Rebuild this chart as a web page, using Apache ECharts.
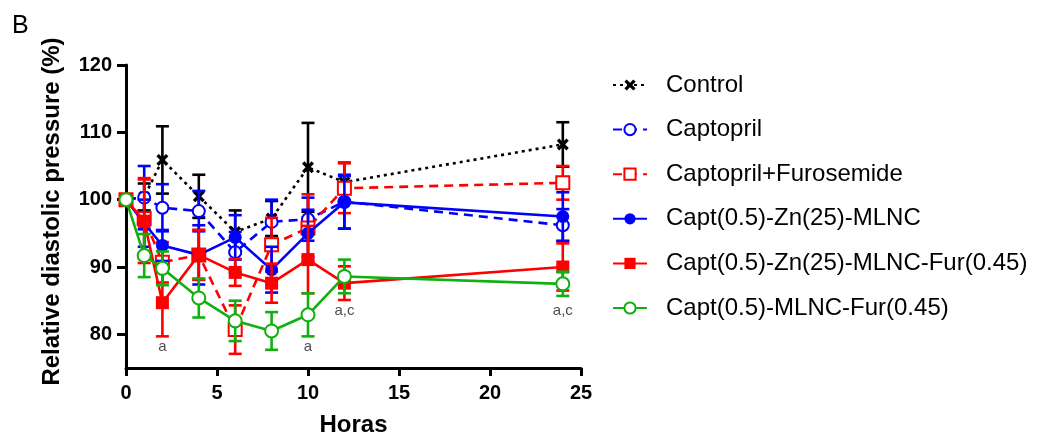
<!DOCTYPE html>
<html>
<head>
<meta charset="utf-8">
<script src="https://cdn.jsdelivr.net/npm/echarts@6/dist/echarts.min.js"></script>
<style>html,body{margin:0;padding:0;background:#fff;}#c{width:1042px;height:436px;}</style>
</head>
<body>
<div id="c"></div>
<script>
const times = [0, 1, 2, 4, 6, 8, 10, 12, 24];
const seriesNames = ['Control', 'Captopril', 'Captopril+Furosemide', 'Capt(0.5)-Zn(25)-MLNC', 'Capt(0.5)-Zn(25)-MLNC-Fur(0.45)', 'Capt(0.5)-MLNC-Fur(0.45)'];
const control     = [100, 100.4, 105.9, 100.5, 95.2, 97.2, 104.8, 102.6, 108.2];
const controlSD   = [0, 2.0, 5.0, 3.2, 3.2, 2.6, 6.6, 2.9, 3.3];
const captopril   = [100, 100.3, 98.8, 98.3, 92.2, 96.7, 97.1, 99.7, 96.2];
const captoprilSD = [0, 4.7, 3.5, 3.0, 3.0, 3.3, 3.2, 4.0, 2.4];
const captFur     = [100, 97.2, 90.7, 91.8, 80.7, 93.3, 95.8, 101.7, 102.5];
const captFurSD   = [0, 6.0, 3.0, 3.7, 3.6, 4.0, 5.0, 3.7, 2.5];
const zn          = [100, 96.5, 93.2, 91.8, 94.4, 89.6, 95.0, 99.6, 97.5];
const znSD        = [0, 3.5, 2.3, 4.4, 3.3, 3.4, 3.5, 3.9, 3.6];
const znFur       = [100, 96.8, 84.7, 91.8, 89.2, 87.6, 91.1, 87.6, 90.0];
const znFurSD     = [0, 6.2, 5.0, 3.7, 2.0, 2.9, 5.0, 2.5, 3.5];
const mlncFur     = [100, 91.7, 89.8, 85.4, 82.0, 80.5, 82.9, 88.6, 87.5];
const mlncFurSD   = [0, 3.2, 2.5, 2.9, 3.0, 2.8, 3.2, 2.5, 1.8];
const yTicks = [80, 90, 100, 110, 120];
const annX = [2, 10, 12, 24];
const annY = [78.2, 78.2, 83.5, 83.5];
const annText = ['a', 'a', 'a,c', 'a,c'];

const FONT = 'Arial, "Liberation Sans", sans-serif';
const xMarker = 'path://M0,2 L2,0 L5,3 L8,0 L10,2 L7,5 L10,8 L8,10 L5,7 L2,10 L0,8 L3,5 Z';

const defs = [
  {name: seriesNames[0], mean: control,   sd: controlSD,   color: '#000000', symbol: xMarker,       size: 12, dash: [3, 4]},
  {name: seriesNames[1], mean: captopril, sd: captoprilSD, color: '#0000ff', symbol: 'emptyCircle', size: 12, dash: [9, 6]},
  {name: seriesNames[2], mean: captFur,   sd: captFurSD,   color: '#ff0000', symbol: 'emptyRect',   size: 13, dash: [9, 6]},
  {name: seriesNames[3], mean: zn,        sd: znSD,        color: '#0000ff', symbol: 'circle',      size: 13, dash: 'solid'},
  {name: seriesNames[4], mean: znFur,     sd: znFurSD,     color: '#ff0000', symbol: 'rect',        size: 13, dash: 'solid'},
  {name: seriesNames[5], mean: mlncFur,   sd: mlncFurSD,   color: '#10b010', symbol: 'emptyCircle', size: 13, dash: 'solid'}
];

const series = [];
defs.forEach(function (d, i) {
  series.push({
    type: 'custom',
    name: d.name + ' SD',
    z: 2 + i * 2,
    silent: true,
    data: times.map(function (t, k) { return [t, d.mean[k], d.sd[k]]; }),
    renderItem: function (params, api) {
      const x = api.value(0), m = api.value(1), s = api.value(2);
      if (!s) return null;
      const top = api.coord([x, m + s]);
      const bot = api.coord([x, m - s]);
      const hw = 6.5;
      const st = {stroke: d.color, lineWidth: 2.6};
      return {type: 'group', children: [
        {type: 'line', shape: {x1: top[0], y1: top[1], x2: bot[0], y2: bot[1]}, style: st},
        {type: 'line', shape: {x1: top[0] - hw, y1: top[1], x2: top[0] + hw, y2: top[1]}, style: st},
        {type: 'line', shape: {x1: bot[0] - hw, y1: bot[1], x2: bot[0] + hw, y2: bot[1]}, style: st}
      ]};
    }
  });
  series.push({
    type: 'line',
    name: d.name,
    z: 3 + i * 2,
    data: times.map(function (t, k) { return [t, d.mean[k]]; }),
    symbol: d.symbol,
    symbolSize: d.size,
    showAllSymbol: true,
    lineStyle: {color: d.color, width: 2.6, type: d.dash},
    itemStyle: {color: d.color, borderColor: d.color, borderWidth: (d.symbol.indexOf('empty') === 0 ? 2.6 : 0)},
    emphasis: {disabled: true}
  });
});
series.push({
  type: 'scatter',
  name: 'annotations',
  silent: true,
  symbolSize: 0,
  z: 20,
  data: annX.map(function (x, k) { return {value: [x, annY[k]], label: {formatter: annText[k]}}; }),
  label: {show: true, position: 'inside', color: '#222', fontSize: 15, fontFamily: FONT}
});

const chart = echarts.init(document.getElementById('c'), null, {renderer: 'canvas'});
chart.setOption({
  animation: false,
  backgroundColor: '#ffffff',
  grid: {left: 126, right: 461, top: 65, bottom: 68, containLabel: false, outerBoundsMode: 'none'},
  xAxis: {
    type: 'value', min: 0, max: 25, interval: 5,
    name: 'Horas', nameLocation: 'middle', nameGap: 45,
    nameTextStyle: {fontSize: 24, fontWeight: 'bold', color: '#000', fontFamily: FONT},
    axisLine: {show: true, lineStyle: {color: '#000', width: 3}},
    axisTick: {show: true, length: 8, lineStyle: {color: '#000', width: 3}},
    axisLabel: {fontSize: 20, fontWeight: 'bold', color: '#000', fontFamily: FONT, margin: 15},
    splitLine: {show: false}
  },
  yAxis: {
    type: 'value', min: 75, max: 120,
    name: 'Relative diastolic pressure (%)', nameLocation: 'middle', nameGap: 62,
    nameTextStyle: {fontSize: 24, fontWeight: 'bold', color: '#000', fontFamily: FONT, padding: [0, 0, 0, 10]},
    axisLine: {show: true, lineStyle: {color: '#000', width: 3}},
    axisTick: {show: true, length: 9, customValues: yTicks, lineStyle: {color: '#000', width: 3}},
    axisLabel: {fontSize: 20, fontWeight: 'bold', color: '#000', fontFamily: FONT, margin: 14, customValues: yTicks},
    splitLine: {show: false}
  },
  legend: {
    orient: 'vertical', left: 612, top: 73, padding: 0,
    itemWidth: 34, itemHeight: 14, itemGap: 20.6,
    data: seriesNames,
    textStyle: {fontSize: 24, color: '#000', fontFamily: FONT, padding: [0, 0, 0, 14]}
  },
  graphic: [{
    type: 'text', left: 12, top: 14,
    style: {text: 'B', fontSize: 25, fill: '#000', fontFamily: FONT}
  }],
  series: series
});
</script>
</body>
</html>
